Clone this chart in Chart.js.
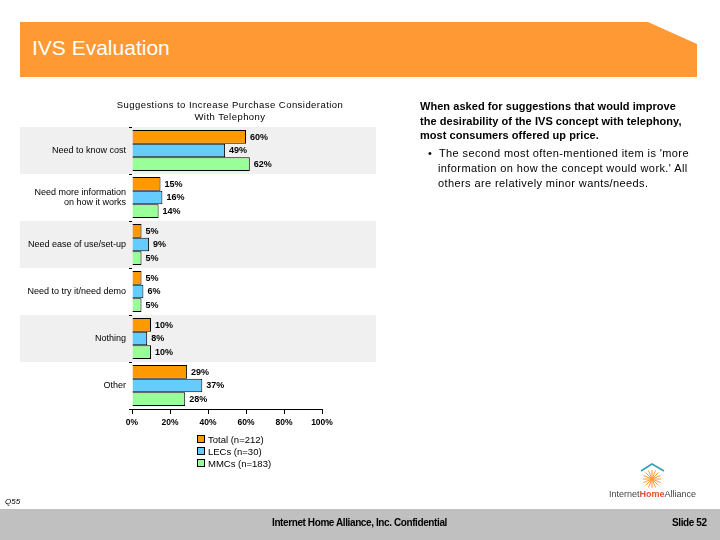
<!DOCTYPE html>
<html>
<head>
<meta charset="utf-8">
<script src="https://cdn.jsdelivr.net/npm/chart.js@4/dist/chart.umd.min.js"></script>
<style>
  body { margin: 0; width: 720px; height: 540px; overflow: hidden; background: #fff; font-family: "Liberation Sans", Arial, sans-serif; }
  #page { position: relative; width: 720px; height: 540px; }
  #myChart { position: absolute; left: 0; top: 0; }
  .abs { position: absolute; white-space: nowrap; }
  #title { left: 32px; top: 36px; color: #fff; font-size: 21px; }
  #chartTitle { left: 90px; width: 280px; top: 99px; text-align: center; font-size: 9.5px; line-height: 12px; letter-spacing: 0.45px; color: #000; }
  #notes { left: 420px; top: 99px; font-size: 11px; line-height: 14.6px; color: #000; }
  #notes b { letter-spacing: 0.05px; }
  #notes .bul { margin-top: 3px; line-height: 15px; padding-left: 18px; text-indent: -10px; letter-spacing: 0.4px; }
  #legend { left: 197px; top: 434px; font-size: 9.5px; line-height: 12px; }
  #legend span.box { display: inline-block; width: 6px; height: 6px; border: 1px solid #000; margin-right: 3px; vertical-align: 0px; }
  #footer { left: 0; top: 509px; width: 720px; height: 31px; background: #c0c0c0; }
  #conf { left: 272px; top: 517px; font-size: 10px; font-weight: bold; letter-spacing: -0.4px; }
  #slide { left: 672px; top: 517px; font-size: 10px; font-weight: bold; letter-spacing: -0.4px; }
  #q55 { left: 5px; top: 497px; font-size: 8px; font-style: italic; }
  #logoText { left: 609px; top: 489px; font-size: 9px; color: #444; letter-spacing: 0px; }
</style>
</head>
<body>
<div id="page">
  <svg class="abs" style="left:0;top:0" width="720" height="540">
    <polygon points="20,22 648,22 697,44 697,77 20,77" fill="#ff9933"/>
    <polyline points="641,471 652,464 664,471" fill="none" stroke="#33a0b0" stroke-width="1.5"/>
    <g stroke="#ff9933" stroke-width="1">
      <line x1="652" y1="470" x2="652" y2="488"/>
      <line x1="643" y1="479" x2="661" y2="479"/>
      <line x1="645.5" y1="472.5" x2="658.5" y2="485.5"/>
      <line x1="658.5" y1="472.5" x2="645.5" y2="485.5"/>
      <line x1="648.5" y1="470.5" x2="655.5" y2="487.5"/>
      <line x1="655.5" y1="470.5" x2="648.5" y2="487.5"/>
      <line x1="643.5" y1="475.5" x2="660.5" y2="482.5"/>
      <line x1="660.5" y1="475.5" x2="643.5" y2="482.5"/>
    </g>
  </svg>
  <div id="title" class="abs">IVS Evaluation</div>
  <canvas id="myChart" width="720" height="540"></canvas>
  <div id="chartTitle" class="abs">Suggestions to Increase Purchase Consideration<br>With Telephony</div>
  <div id="notes" class="abs">
    <b>When asked for suggestions that would improve<br>the desirability of the IVS concept with telephony,<br>most consumers offered up price.</b>
    <div class="bul">&bull;&nbsp; The second most often-mentioned item is 'more<br>information on how the concept would work.' All<br>others are relatively minor wants/needs.</div>
  </div>
  <div id="legend" class="abs"></div>
  <div id="q55" class="abs">Q55</div>
  <div id="logoText" class="abs">Internet<span style="color:#e8502a;font-weight:bold">Home</span>Alliance</div>
  <div id="footer" class="abs"></div>
  <div id="conf" class="abs">Internet Home Alliance, Inc. Confidential</div>
  <div id="slide" class="abs">Slide 52</div>
</div>
<script>
const categories = [
  'Need to know cost',
  ['Need more information', 'on how it works'],
  'Need ease of use/set-up',
  'Need to try it/need demo',
  'Nothing',
  'Other'
];
const seriesNames = ['Total (n=212)', 'LECs (n=30)', 'MMCs (n=183)'];
const totalValues = [60, 15, 5, 5, 10, 29];
const lecValues = [49, 16, 9, 6, 8, 37];
const mmcValues = [62, 14, 5, 5, 10, 28];
const xTicks = [0, 20, 40, 60, 80, 100];

const seriesColors = ['#ff9900', '#66ccff', '#99ff99'];

// alternating gray bands behind everything
const bandPlugin = {
  id: 'bands',
  beforeDraw(chart) {
    const ctx = chart.ctx;
    const y = chart.scales.y;
    const step = chart.chartArea.height / categories.length;
    ctx.save();
    ctx.fillStyle = '#f0f0f0';
    for (let i = 0; i < categories.length; i += 2) {
      const c = y.getPixelForValue(i);
      ctx.fillRect(20, c - step / 2, 356, step);
    }
    ctx.restore();
  }
};

// value labels at bar ends
const valueLabels = {
  id: 'valueLabels',
  afterDatasetsDraw(chart) {
    const ctx = chart.ctx;
    ctx.save();
    ctx.font = 'bold 9px "Liberation Sans", Arial';
    ctx.fillStyle = '#000';
    ctx.textBaseline = 'middle';
    chart.data.datasets.forEach((ds, di) => {
      chart.getDatasetMeta(di).data.forEach((bar, i) => {
        ctx.fillText(ds.data[i] + '%', bar.x + 4, bar.y + 0.5);
      });
    });
    ctx.restore();
  }
};

let myChart;
function initChart() {
  const ctx = document.getElementById('myChart');
  myChart = new Chart(ctx, {
    type: 'bar',
    data: {
      labels: categories,
      datasets: [
        { label: seriesNames[0], data: totalValues, backgroundColor: seriesColors[0] },
        { label: seriesNames[1], data: lecValues, backgroundColor: seriesColors[1] },
        { label: seriesNames[2], data: mmcValues, backgroundColor: seriesColors[2] }
      ].map((d) => Object.assign(d, { borderColor: '#000', borderWidth: 1, categoryPercentage: 0.87, barPercentage: 1 }))
    },
    options: {
      indexAxis: 'y',
      responsive: false,
      animation: false,
      layout: { padding: { left: 20, right: 398, top: 127, bottom: 106 } },
      plugins: { legend: { display: false }, tooltip: { enabled: false } },
      scales: {
        x: {
          min: 0, max: 100,
          afterFit: (s) => { s.height = 25; },
          afterBuildTicks: (s) => { s.ticks = xTicks.map((v) => ({ value: v })); },
          border: { display: true, color: '#000', width: 1 },
          grid: { drawOnChartArea: false, color: '#000', tickLength: 5 },
          ticks: { padding: 4, color: '#000', font: { size: 8.5, weight: 'bold', family: '"Liberation Sans", Arial' }, callback: (v) => v + '%' }
        },
        y: {
          afterFit: (s) => { s.width = 112; },
          border: { display: false },
          grid: { drawOnChartArea: false, offset: true, color: '#000', tickLength: 3 },
          ticks: { padding: 3, color: '#000', font: { size: 9, family: '"Liberation Sans", Arial', lineHeight: 1.15 } }
        }
      }
    },
    plugins: [bandPlugin, valueLabels]
  });

  const legend = document.getElementById('legend');
  legend.innerHTML = myChart.data.datasets.map((ds) =>
    '<div><span class="box" style="background:' + ds.backgroundColor + '"></span>' + ds.label + '</div>'
  ).join('');
}

document.addEventListener('DOMContentLoaded', () => initChart());
</script>
</body>
</html>
